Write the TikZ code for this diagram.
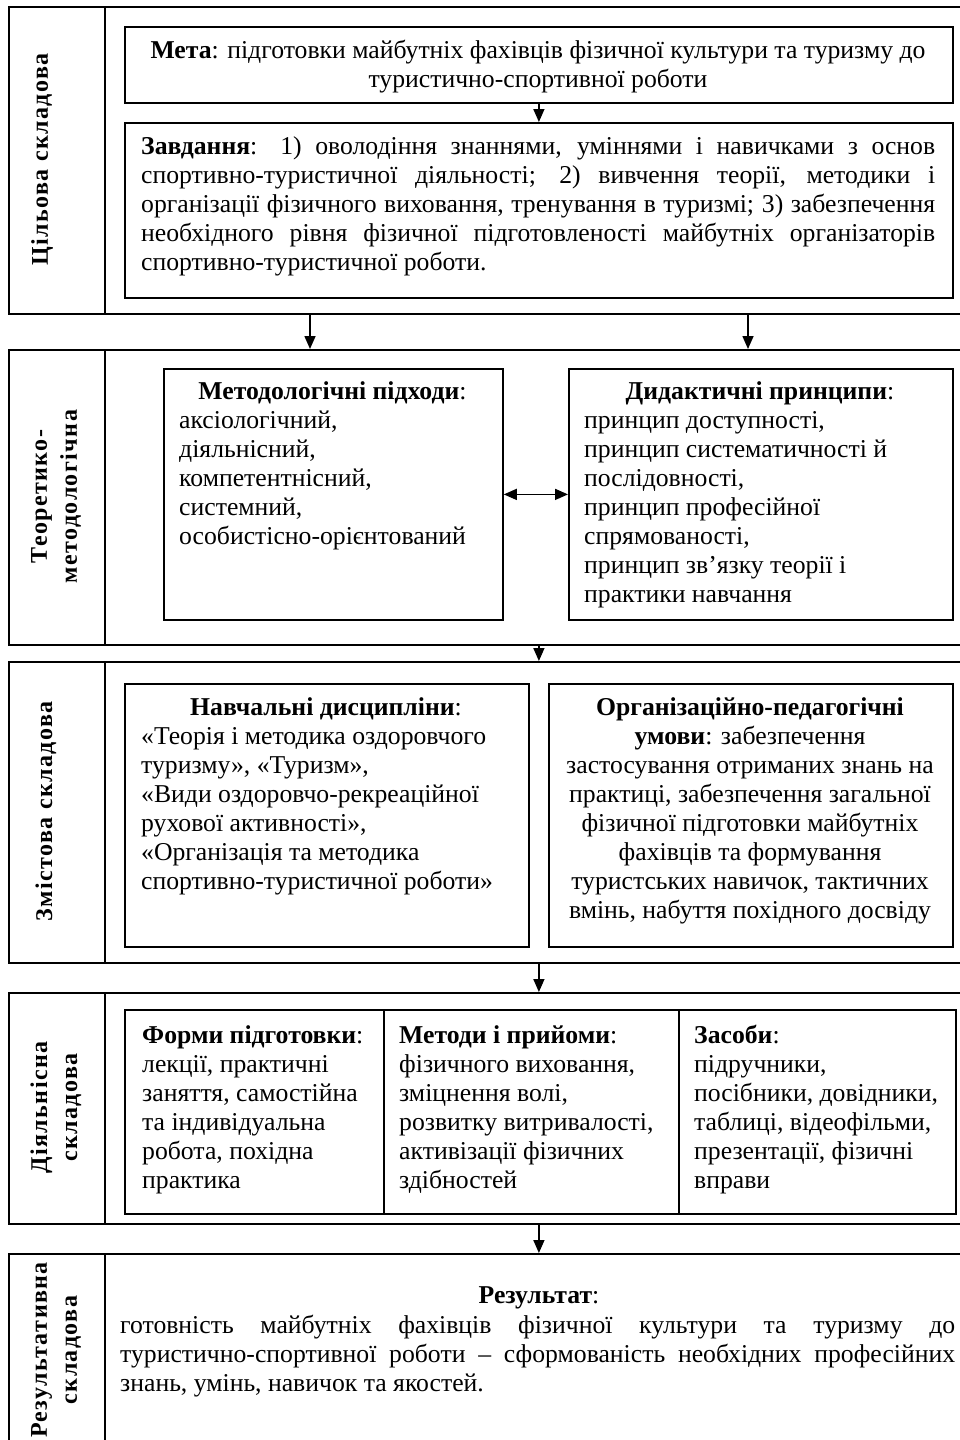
\documentclass[tikz,border=0pt]{standalone}
\usepackage{fontspec}
\setmainfont{Liberation Serif}
\usetikzlibrary{arrows.meta,calc}
\newcommand\jst[2]{\makebox[#1][s]{#2}}
\begin{document}
\begin{tikzpicture}[x=1pt,y=-1pt,
  every node/.style={font=\fontsize{25.7}{29}\selectfont, inner sep=0pt},
  panel/.style={draw, line width=1.8pt, anchor=north west, minimum width=967pt},
  bx/.style={draw, line width=1.8pt, anchor=north west},
  txt/.style={anchor=north west, align=left},
  ctxt/.style={anchor=north, align=center},
  lab/.style={rotate=90, align=center, font=\fontsize{24}{30}\selectfont\bfseries\addfontfeature{LetterSpace=6}},
  sep/.style={line width=1.8pt},
  arr/.style={line width=1.6pt, -{Triangle[length=13pt,width=11pt]}},
  darr/.style={line width=1.6pt, {Triangle[length=13pt,width=11pt]}-{Triangle[length=13pt,width=11pt]}}
]
\fill[white] (0,0) rectangle (960,1440);
\useasboundingbox (0,0) rectangle (960,1440);
\clip (0,0) rectangle (960,1440);

% panels
\node[panel, minimum height=307pt] (p1) at (8,6) {};
\node[panel, minimum height=295pt] (p2) at (8,349) {};
\node[panel, minimum height=301pt] (p3) at (8,661) {};
\node[panel, minimum height=231pt] (p4) at (8,992) {};
\node[panel, minimum height=194pt] (p5) at (8,1253) {};
\foreach \p in {p1,p2,p3,p4,p5}{
  \draw[sep] ($(\p.north west)+(97,0)$) -- ($(\p.south west)+(97,0)$);
}

% labels
\node[lab] (l1) at (42,159.5) {Цільова складова};
\node[lab] (l2) at (56,496.5) {Теоретико-\\методологічна};
\node[lab] (l3) at (46,811.5) {Змістова складова};
\node[lab] (l4) at (56,1107.5) {Діяльнісна\\складова};
\node[lab] (l5) at (56,1350) {Результативна\\складова};

% panel 1
\node[bx, minimum width=828pt, minimum height=76pt] (meta) at (124,26) {};
\node[ctxt] (metaT) at (538,37.7) {\strut\textbf{Мета}: підготовки майбутніх фахівців фізичної культури та туризму до\\туристично-спортивної роботи};
\node[bx, minimum width=828pt, minimum height=175pt] (zav) at (124,122) {};
\node[txt] (zavT) at (141,133.7) {\strut\jst{794pt}{\textbf{Завдання}: 1) оволодіння знаннями, уміннями і навичками з основ}\\
\jst{794pt}{спортивно-туристичної діяльності; 2) вивчення теорії, методики і}\\
\jst{794pt}{організації фізичного виховання, тренування в туризмі; 3) забезпечення}\\
\jst{794pt}{необхідного рівня фізичної підготовленості майбутніх організаторів}\\
спортивно-туристичної роботи.};
\draw[arr] (meta) -- (zav);

% panel 2
\node[bx, minimum width=339pt, minimum height=251pt] (metod) at (163,368) {};
\node[ctxt] (metodH) at (332.5,378.7) {\strut\textbf{Методологічні підходи}:};
\node[txt] (metodL) at (179,407.7) {\strut аксіологічний,\\діяльнісний,\\компетентнісний,\\системний,\\особистісно-орієнтований};
\node[bx, minimum width=384pt, minimum height=251pt] (dyd) at (568,368) {};
\node[ctxt] (dydH) at (760,378.7) {\strut\textbf{Дидактичні принципи}:};
\node[txt] (dydL) at (584,407.7) {\strut принцип доступності,\\принцип систематичності й\\послідовності,\\принцип професійної\\спрямованості,\\принцип зв’язку теорії і\\практики навчання};
\draw[darr] (metod) -- (dyd);

% panel 3
\node[bx, minimum width=404pt, minimum height=263pt] (navch) at (124,683) {};
\node[ctxt] (navchH) at (326,694.7) {\strut\textbf{Навчальні дисципліни}:};
\node[txt] (navchL) at (141,723.7) {\strut«Теорія і методика оздоровчого\\туризму», «Туризм»,\\«Види оздоровчо-рекреаційної\\рухової активності»,\\«Організація та методика\\спортивно-туристичної роботи»};
\node[bx, minimum width=404pt, minimum height=263pt] (org) at (548,683) {};
\node[ctxt] (orgT) at (750,694.7) {\strut\textbf{Організаційно-педагогічні}\\\textbf{умови}: забезпечення\\застосування отриманих знань на\\практиці, забезпечення загальної\\фізичної підготовки майбутніх\\фахівців та формування\\туристських навичок, тактичних\\вмінь, набуття похідного досвіду};

% panel 4
\node[bx, minimum width=259pt, minimum height=204pt] (form) at (124,1009) {};
\node[bx, minimum width=295pt, minimum height=204pt] (meth) at (383,1009) {};
\node[bx, minimum width=277pt, minimum height=204pt] (zas) at (678,1009) {};
\node[txt] (formT) at (142,1022.7) {\strut\textbf{Форми підготовки}:\\лекції, практичні\\заняття, самостійна\\та індивідуальна\\робота, похідна\\практика};
\node[txt] (methT) at (399,1022.7) {\strut\textbf{Методи і прийоми}:\\фізичного виховання,\\зміцнення волі,\\розвитку витривалості,\\активізації фізичних\\здібностей};
\node[txt] (zasT) at (694,1022.7) {\strut\textbf{Засоби}:\\підручники,\\посібники, довідники,\\таблиці, відеофільми,\\презентації, фізичні\\вправи};

% panel 5
\node[ctxt] (resH) at (539,1282.7) {\strut\textbf{Результат}:};
\node[txt] (resT) at (120,1312.7) {\strut\jst{835pt}{готовність майбутніх фахівців фізичної культури та туризму до}\\
\jst{835pt}{туристично-спортивної роботи – сформованість необхідних професійних}\\
знань, умінь, навичок та якостей.};

% connectors between panels
\draw[arr] ($(p1.south west)+(302,0)$) -- ($(p2.north west)+(302,0)$);
\draw[arr] ($(p1.south west)+(740,0)$) -- ($(p2.north west)+(740,0)$);
\draw[arr] (zav.south |- p2.south) -- (zav.south |- p3.north);
\draw[arr] (zav.south |- p3.south) -- (zav.south |- p4.north);
\draw[arr] (zav.south |- p4.south) -- (zav.south |- p5.north);
\end{tikzpicture}
\end{document}
